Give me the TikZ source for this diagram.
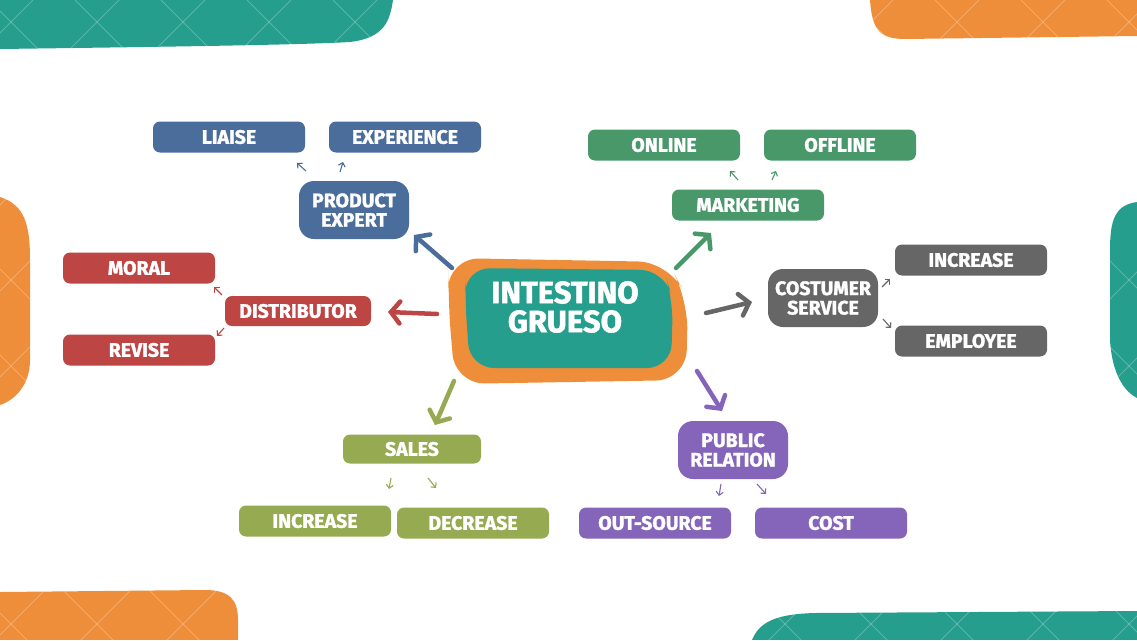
\documentclass[tikz,border=0pt]{standalone}
\usepackage{fontspec}
\newfontfamily\lbl{Fira Sans}[BoldFeatures={FakeBold=1.6}]
\usetikzlibrary{arrows.meta}
\definecolor{cteal}{RGB}{38,158,141}
\definecolor{corange}{RGB}{239,142,58}
\definecolor{cblue}{RGB}{74,109,155}
\definecolor{cgreen}{RGB}{72,152,106}
\definecolor{cred}{RGB}{189,69,67}
\definecolor{cgray}{RGB}{102,102,102}
\definecolor{colive}{RGB}{150,170,82}
\definecolor{cpurple}{RGB}{133,101,185}
\newcommand{\latticelines}{%
  \foreach \k in {-9,...,21} {
    \draw[latt] ({75+86*\k},0) -- ++(700,700);
    \draw[latt] ({119+86*\k},0) -- ++(-700,700);
  }}
\begin{document}
\begin{tikzpicture}[x=1pt,y=-1pt,
  latt/.style={draw=white, opacity=0.25, line width=0.8pt},
  box/.style={fill=#1, rounded corners=7pt, minimum width=152pt, minimum height=31pt,
    inner sep=0pt, text=white, font=\lbl\bfseries\fontsize{19.5}{19.5}\selectfont},
  blob/.style={fill=#1, rounded corners=15pt, minimum width=110pt, minimum height=58pt,
    inner sep=0pt, align=center, text=white, font=\lbl\bfseries\fontsize{19.5}{19.5}\selectfont},
  bigarr/.style={draw=#1, line width=4.5pt, line cap=round, line join=round,
    -{Straight Barb[length=9pt,width=22pt,line cap=round]}},
  smallarr/.style={draw=#1, line width=1.1pt, -{Straight Barb[length=3.5pt,width=7pt]}}]
\useasboundingbox (0,0) rectangle (1137,640);

% ---------- decorative corner blobs ----------
\begin{scope}
  \path[clip] (0,0) -- (0,49) .. controls (150,47) and (300,45) .. (350,42)
     .. controls (385,38) and (390,20) .. (393,0) -- cycle;
  \fill[cteal] (0,0) rectangle (400,60);
  \latticelines
\end{scope}
\begin{scope}
  \path[clip] (870,0) .. controls (872,30) and (880,39) .. (905,39) -- (1137,36) -- (1137,0) -- cycle;
  \fill[corange] (860,0) rectangle (1137,45);
  \latticelines
\end{scope}
\begin{scope}
  \path[clip] (0,197) .. controls (25,205) and (30,225) .. (30,260) -- (30,360)
     .. controls (30,385) and (15,400) .. (0,405) -- cycle;
  \fill[corange] (0,190) rectangle (35,410);
  \latticelines
\end{scope}
\begin{scope}
  \path[clip] (1137,202) .. controls (1115,205) and (1110,220) .. (1110,250) -- (1110,340)
     .. controls (1112,375) and (1125,392) .. (1137,398) -- cycle;
  \fill[cteal] (1100,195) rectangle (1137,405);
  \latticelines
\end{scope}
\begin{scope}
  \path[clip] (0,592) -- (205,590) .. controls (230,590) and (238,600) .. (238,620)
     -- (238,640) -- (0,640) -- cycle;
  \fill[corange] (0,585) rectangle (245,640);
  \latticelines
\end{scope}
\begin{scope}
  \path[clip] (752,640) .. controls (760,620) and (780,614) .. (815,613) -- (1137,611)
     -- (1137,640) -- cycle;
  \fill[cteal] (745,605) rectangle (1137,640);
  \latticelines
\end{scope}

% ---------- central node ----------
\fill[corange, rounded corners=30pt] (449,258) -- (668,262) -- (688,300) -- (686,380)
   -- (455,384) -- (448,300) -- cycle;
\fill[cteal, rounded corners=24pt] (466,268) -- (664,270) -- (673,300) -- (671,368)
   -- (470,368) -- (465,300) -- cycle;
\node[inner sep=0pt, align=center, text=white,
  font=\lbl\bfseries\fontsize{31}{29}\selectfont] (center) at (565,307) {INTESTINO\\GRUESO};

% ---------- product expert ----------
\node[blob=cblue] (pe) at (354,210) {PRODUCT\\EXPERT};
\node[box=cblue] (liaise) at (229,137) {LIAISE};
\node[box=cblue] (exper) at (405,137) {EXPERIENCE};

% ---------- marketing ----------
\node[box=cgreen] (mkt) at (748,205) {MARKETING};
\node[box=cgreen] (online) at (664,145) {ONLINE};
\node[box=cgreen] (offline) at (840,145) {OFFLINE};

% ---------- distributor ----------
\node[box=cred, minimum width=146pt, minimum height=30pt] (dist) at (298,311) {DISTRIBUTOR};
\node[box=cred] (moral) at (139,268) {MORAL};
\node[box=cred] (revise) at (139,350) {REVISE};

% ---------- costumer service ----------
\node[blob=cgray] (cs) at (823,298) {COSTUMER\\SERVICE};
\node[box=cgray] (incr) at (971,260) {INCREASE};
\node[box=cgray] (empl) at (971,341) {EMPLOYEE};

% ---------- sales ----------
\node[box=colive, minimum width=138pt, minimum height=29pt] (sales) at (412,449) {SALES};
\node[box=colive] (sincr) at (315,521) {INCREASE};
\node[box=colive] (sdecr) at (473,523) {DECREASE};

% ---------- public relation ----------
\node[blob=cpurple] (pr) at (733,450) {PUBLIC\\RELATION};
\node[box=cpurple] (outs) at (655,523) {OUT-SOURCE};
\node[box=cpurple] (cost) at (831,523) {COST};

% ---------- arrow end points ----------
\coordinate (c-pe-a) at (452,268);  \coordinate (c-pe-b) at (414,235);
\coordinate (c-mk-a) at (676,268);  \coordinate (c-mk-b) at (711,233);
\coordinate (c-di-a) at (437,314);  \coordinate (c-di-b) at (388,312);
\coordinate (c-cs-a) at (706,313);  \coordinate (c-cs-b) at (752,302);
\coordinate (c-sa-a) at (454,381);  \coordinate (c-sa-b) at (435,425);
\coordinate (c-pr-a) at (697,371);  \coordinate (c-pr-b) at (722,411);

\coordinate (pe-l-a) at (306,171);  \coordinate (pe-l-b) at (297,163);
\coordinate (pe-e-a) at (340,172);  \coordinate (pe-e-b) at (343,162);
\coordinate (mk-on-a) at (738,180); \coordinate (mk-on-b) at (730,171);
\coordinate (mk-of-a) at (772,180); \coordinate (mk-of-b) at (776,171);
\coordinate (di-m-a) at (222,295);  \coordinate (di-m-b) at (214,287);
\coordinate (di-r-a) at (224,328);  \coordinate (di-r-b) at (217,336);
\coordinate (cs-i-a) at (882,287);  \coordinate (cs-i-b) at (890,279);
\coordinate (cs-e-a) at (883,319);  \coordinate (cs-e-b) at (891,328);
\coordinate (sa-i-a) at (391,478);  \coordinate (sa-i-b) at (389,489);
\coordinate (sa-d-a) at (428,478);  \coordinate (sa-d-b) at (436,488);
\coordinate (pr-o-a) at (721,484);  \coordinate (pr-o-b) at (719,496);
\coordinate (pr-c-a) at (757,484);  \coordinate (pr-c-b) at (766,494);

% ---------- big arrows ----------
\draw[bigarr=cblue] (c-pe-a) -- (c-pe-b);
\draw[bigarr=cgreen] (c-mk-a) -- (c-mk-b);
\draw[bigarr=cred] (c-di-a) -- (c-di-b);
\draw[bigarr=cgray] (c-cs-a) -- (c-cs-b);
\draw[bigarr=colive] (c-sa-a) -- (c-sa-b);
\draw[bigarr=cpurple] (c-pr-a) -- (c-pr-b);

% ---------- small arrows ----------
\draw[smallarr=cblue] (pe-l-a) -- (pe-l-b);
\draw[smallarr=cblue] (pe-e-a) -- (pe-e-b);
\draw[smallarr=cgreen] (mk-on-a) -- (mk-on-b);
\draw[smallarr=cgreen] (mk-of-a) -- (mk-of-b);
\draw[smallarr=cred] (di-m-a) -- (di-m-b);
\draw[smallarr=cred] (di-r-a) -- (di-r-b);
\draw[smallarr=cgray] (cs-i-a) -- (cs-i-b);
\draw[smallarr=cgray] (cs-e-a) -- (cs-e-b);
\draw[smallarr=colive] (sa-i-a) -- (sa-i-b);
\draw[smallarr=colive] (sa-d-a) -- (sa-d-b);
\draw[smallarr=cpurple] (pr-o-a) -- (pr-o-b);
\draw[smallarr=cpurple] (pr-c-a) -- (pr-c-b);
\end{tikzpicture}
\end{document}
